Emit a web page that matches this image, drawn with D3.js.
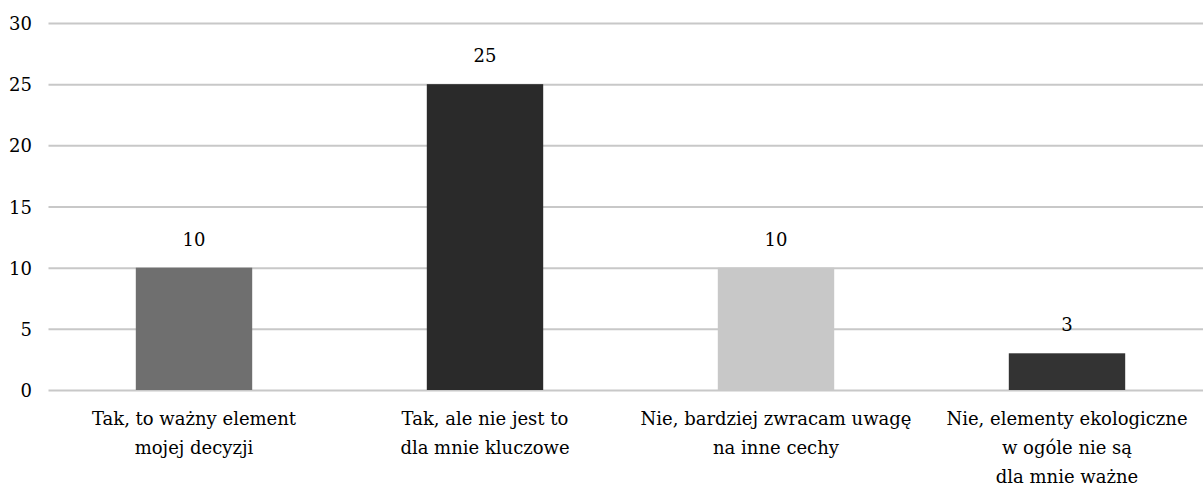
<!DOCTYPE html>
<html>
<head>
<meta charset="utf-8">
<script src="https://cdn.jsdelivr.net/npm/d3@7"></script>
<style>
  body { margin: 0; background: #fff; }
  text { font-family: "DejaVu Serif", serif; fill: #000; }
  .grid line { stroke: #c8c8c8; stroke-width: 2; }
  .grid path { display: none; }
</style>
</head>
<body>
<svg id="chart" width="1203" height="484"></svg>
<script>
// data
const categories = [
  ["Tak, to ważny element", "mojej decyzji"],
  ["Tak, ale nie jest to", "dla mnie kluczowe"],
  ["Nie, bardziej zwracam uwagę", "na inne cechy"],
  ["Nie, elementy ekologiczne", "w ogóle nie są", "dla mnie ważne"]
];
const values = [10, 25, 10, 3];
const barColors = ["#6f6f6f", "#2a2a2a", "#c8c8c8", "#333333"];
const yTicks = [0, 5, 10, 15, 20, 25, 30];

const svg = d3.select("#chart");
const plotLeft = 48.5, plotRight = 1212.5, plotTop = 23, plotBottom = 390;
const fontSize = 18;

let xScale = d3
  .scaleBand()
  .domain(d3.range(values.length))
  .range([plotLeft, plotRight])
  .paddingInner(0.6)
  .paddingOuter(0.3);
let yScale = d3.scaleLinear().domain([0, 30]).range([plotBottom, plotTop]);

// gridlines
svg
  .append("g")
  .attr("class", "grid")
  .attr("transform", `translate(${plotLeft},0)`)
  .call(d3.axisRight(yScale).tickValues(yTicks).tickSize(plotRight - plotLeft).tickFormat(""));

// y labels
svg
  .selectAll(".ylab")
  .data(yTicks)
  .enter()
  .append("text")
  .attr("x", 32)
  .attr("y", (d) => yScale(d) + 7)
  .attr("text-anchor", "end")
  .attr("font-size", fontSize)
  .text((d) => d);

// bars
svg
  .selectAll(".bar")
  .data(values)
  .enter()
  .append("rect")
  .attr("x", (d, i) => xScale(i))
  .attr("y", (d) => yScale(d))
  .attr("width", xScale.bandwidth())
  .attr("height", (d) => plotBottom - yScale(d))
  .attr("fill", (d, i) => barColors[i]);

// value labels
svg
  .selectAll(".val")
  .data(values)
  .enter()
  .append("text")
  .attr("x", (d, i) => xScale(i) + xScale.bandwidth() / 2)
  .attr("y", (d) => yScale(d) - 22)
  .attr("text-anchor", "middle")
  .attr("font-size", fontSize)
  .text((d) => d);

// category labels
categories.forEach(function (lines, i) {
  let cx = xScale(i) + xScale.bandwidth() / 2;
  let t = svg
    .append("text")
    .attr("x", cx)
    .attr("y", 425)
    .attr("text-anchor", "middle")
    .attr("font-size", fontSize);
  lines.forEach(function (line, j) {
    t.append("tspan")
      .attr("x", cx)
      .attr("dy", j === 0 ? 0 : 29)
      .text(line);
  });
});
</script>
</body>
</html>
